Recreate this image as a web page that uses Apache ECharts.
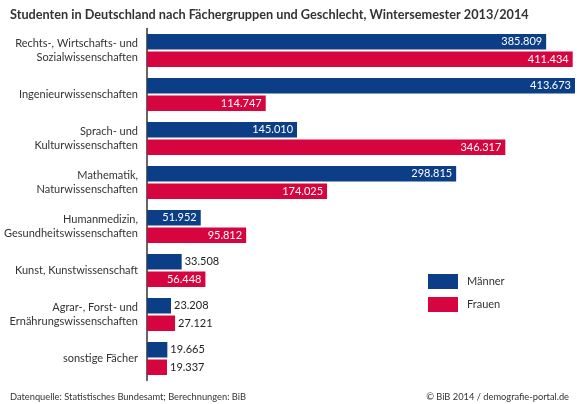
<!DOCTYPE html>
<html><head><meta charset="utf-8">
<script src="https://cdn.jsdelivr.net/npm/echarts@6/dist/echarts.min.js"></script>
<style>html,body{margin:0;padding:0;background:#fff}#c{width:577px;height:404px}</style>
</head><body><div id="c"></div>
<script>
const categories = ["Rechts-, Wirtschafts- und\nSozialwissenschaften","Ingenieurwissenschaften","Sprach- und\nKulturwissenschaften","Mathematik,\nNaturwissenschaften","Humanmedizin,\nGesundheitswissenschaften","Kunst, Kunstwissenschaft","Agrar-, Forst- und\nErnährungswissenschaften","sonstige Fächer"];
const maenner = [385809,413673,145010,298815,51952,33508,23208,19665];
const frauen = [411434,114747,346317,174025,95812,56448,27121,19337];
const seriesNames = ["Männer","Frauen"];
const colors = ["#0b3e86","#d6053f"];
const FONT = "Lato";
function fmt(v){return String(v).replace(/\B(?=(\d{3})+(?!\d))/g,'.');}
function items(arr){
  return arr.map(v => v > 50000
    ? {value:v,label:{position:'insideRight',color:'#fff',distance:4}}
    : {value:v,label:{position:'right',color:'#222',distance:3}});
}
const chart = echarts.init(document.getElementById('c'));
chart.setOption({
  animation:false,
  textStyle:{fontFamily:FONT},
  title:[
    {text:"Studenten in Deutschland nach Fächergruppen und Geschlecht, Wintersemester 2013/2014",left:5,top:3,textStyle:{fontFamily:FONT,fontSize:12.7,fontWeight:'bold',color:'#333'}},
    {text:"Datenquelle: Statistisches Bundesamt; Berechnungen: BiB",left:5,top:387,textStyle:{fontFamily:FONT,fontSize:9.3,fontWeight:'normal',color:'#333'}},
    {text:"© BiB 2014 / demografie-portal.de",right:3,top:387,textStyle:{fontFamily:FONT,fontSize:9.3,fontWeight:'normal',color:'#333'}}
  ],
  legend:{orient:'vertical',left:423,top:269,itemWidth:30,itemHeight:15,itemGap:8,icon:'rect',
    textStyle:{fontFamily:FONT,fontSize:11,color:'#333',padding:[0,0,0,4]},data:seriesNames},
  grid:{left:147,right:2,top:28.5,bottom:23.5,containLabel:false},
  xAxis:{type:'value',min:0,max:413673,show:false},
  yAxis:{type:'category',inverse:true,data:categories,
    axisLine:{show:true,lineStyle:{color:'#333',width:1.5}},axisTick:{show:false},
    axisLabel:{fontFamily:FONT,fontSize:11,color:'#333',margin:9,lineHeight:14,align:'right'}},
  series:[
    {name:seriesNames[0],type:'bar',data:items(maenner),barWidth:15.5,barGap:'13%',itemStyle:{color:colors[0]},
      label:{show:true,fontFamily:FONT,fontSize:11,formatter:p=>fmt(p.value)}},
    {name:seriesNames[1],type:'bar',data:items(frauen),barWidth:15.5,barGap:'13%',itemStyle:{color:colors[1]},
      label:{show:true,fontFamily:FONT,fontSize:11,formatter:p=>fmt(p.value)}}
  ]
});
</script></body></html>
